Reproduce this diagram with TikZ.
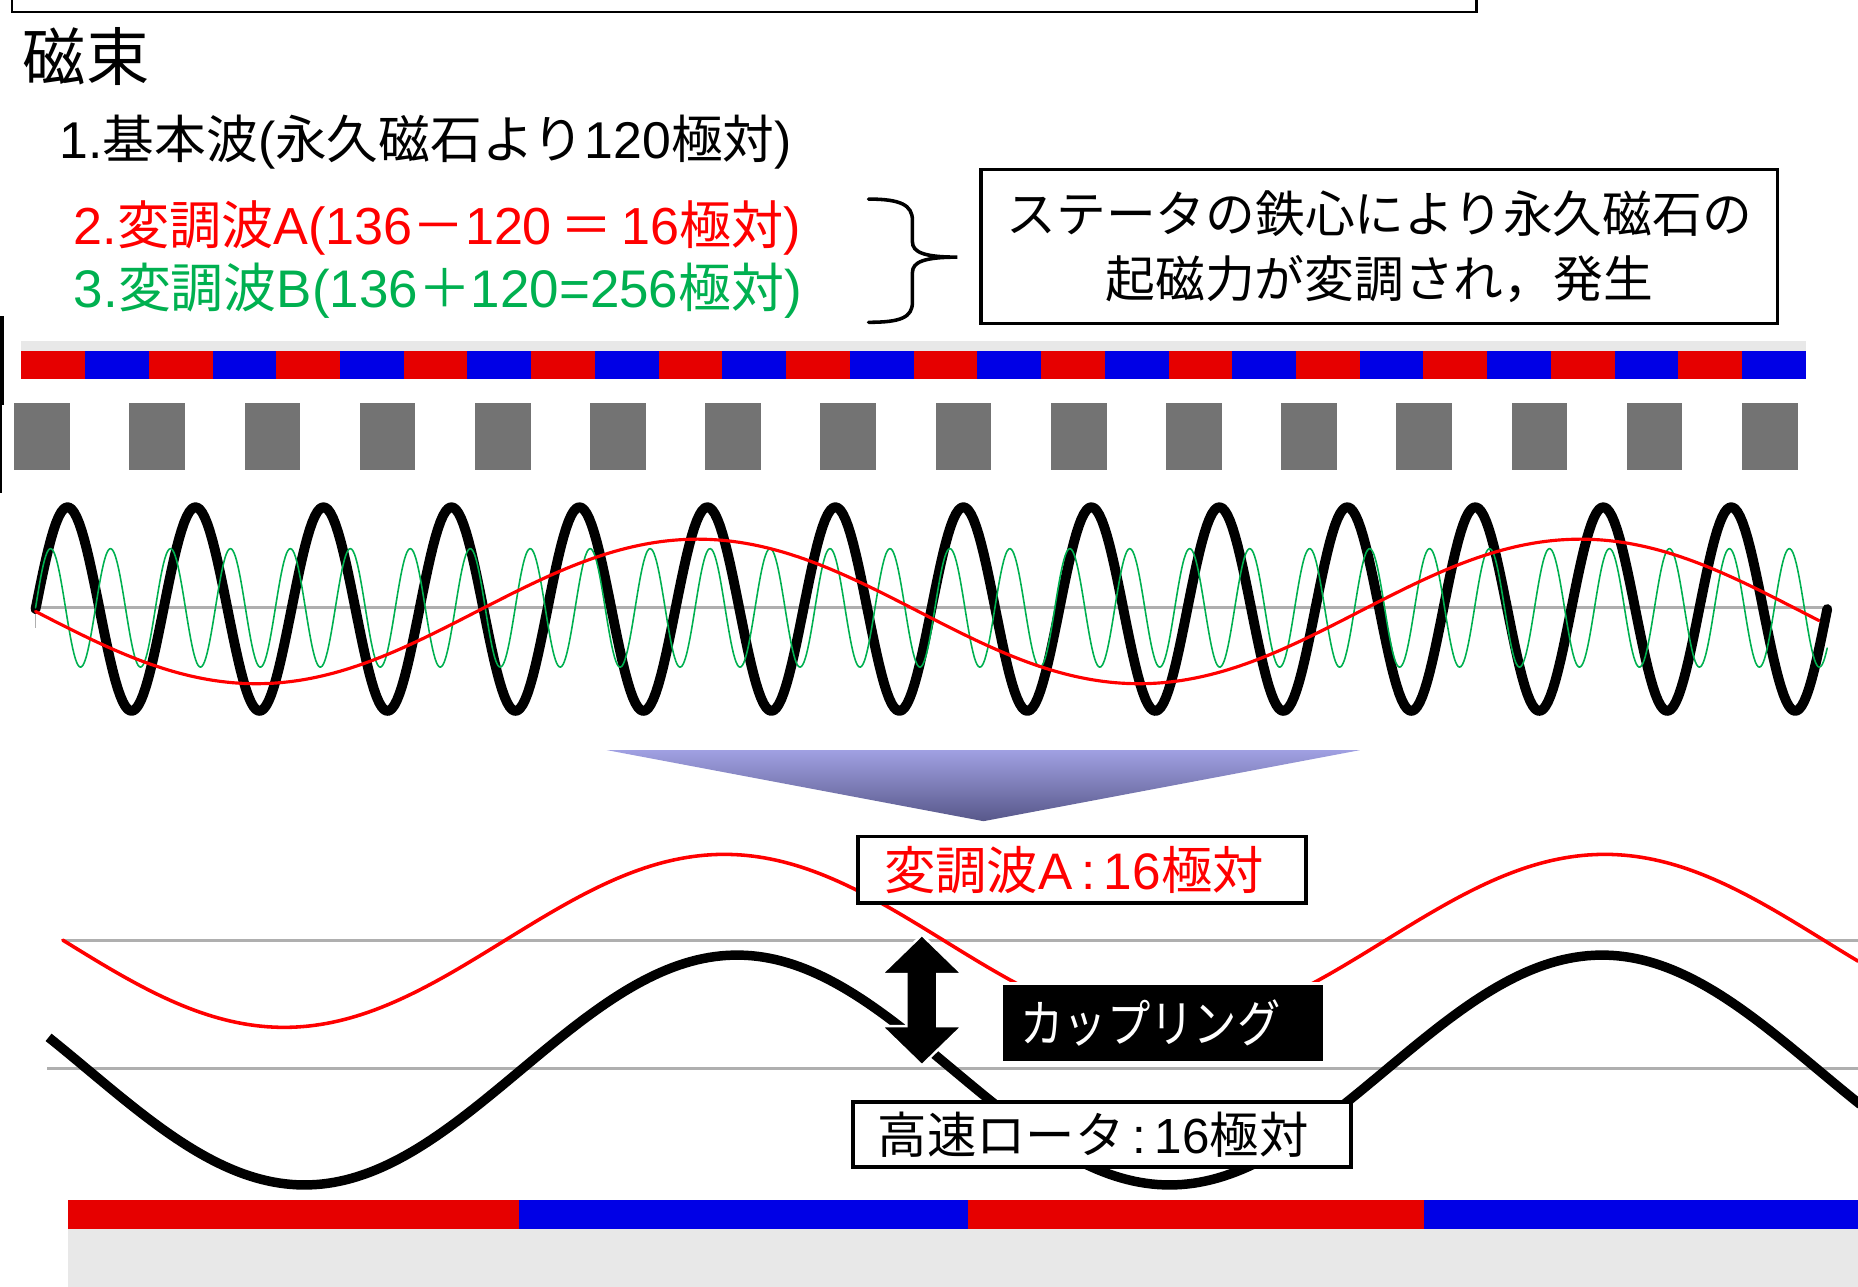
\documentclass[tikz,border=0pt]{standalone}
\usepackage{fontspec}
\setmainfont{Noto Sans CJK JP}
\newfontfamily\jpc{Noto Sans CJK JP}[FakeStretch=0.85]
\newfontfamily\lat{Liberation Sans}
\newcommand{\La}[1]{{\lat #1}}
\definecolor{magred}{RGB}{230,0,0}
\definecolor{magblue}{RGB}{0,0,230}
\definecolor{toothgray}{RGB}{115,115,115}
\definecolor{axisgray}{RGB}{175,175,175}
\definecolor{bandgray}{RGB}{232,232,232}
\definecolor{wavegreen}{RGB}{0,176,80}
\definecolor{txtred}{RGB}{255,0,0}
\definecolor{triTop}{RGB}{160,160,226}
\definecolor{triBot}{RGB}{88,88,138}
\begin{document}
\begin{tikzpicture}[x=0.6pt,y=-0.6pt,
  lbl/.style={inner sep=0pt, anchor=west},
  wbox/.style={draw=black, line width=1.8pt, fill=white, inner sep=0pt},
  wave/.style={line join=round, line cap=round}]
\useasboundingbox (0,0) rectangle (1568,1086);
% top frame (cut off)
\draw[line width=1.2pt] (10,-10) -- (10,10) -- (1246,10) -- (1246,-10);
% left edge marks
\draw[line width=1.8pt] (1.5,267) -- (1.5,342);
\draw[line width=0.9pt] (1,342) -- (1,416);
% headings
\node[lbl, font=\fontsize{32pt}{36pt}\selectfont] (title) at (19,48) {磁束};
\node[lbl, font=\fontsize{26.2pt}{31pt}\selectfont] (l1) at (50,120) {\La{1.}基本波\La{(}永久磁石より\La{120}極対\La{)}};
\node[lbl, text=txtred, font=\fontsize{26.4pt}{31pt}\selectfont] (l2) at (62,192) {\La{2.}変調波\La{A(136}－\La{120}\,＝\,\La{16}極対\La{)}};
\node[lbl, text=wavegreen, font=\fontsize{26.8pt}{31pt}\selectfont] (l3) at (62,245) {\La{3.}変調波\La{B(136}＋\La{120=256}極対\La{)}};
% brace
\draw[line width=1.8pt, line cap=round] (733,168) .. controls (760,168) and (770,173) .. (770,186) -- (770,204)
  .. controls (770,213) and (780,217) .. (808,217) .. controls (780,217) and (770,221) .. (770,230) -- (770,255)
  .. controls (770,268) and (760,272) .. (733,272);
\node[wbox, minimum width=403.2pt, minimum height=78pt, align=center,
  font=\fontsize{25.2pt}{33pt}\selectfont] (note) at (1164,208) {ステータの鉄心により永久磁石の\\起磁力が変調され，発生};
% magnet strip
\fill[bandgray] (18,288) rectangle (1524,296);
\foreach \i in {0,2,...,26} \fill[magred] ({18+\i*53.786},296) rectangle ({18+(\i+1)*53.786},320);
\foreach \i in {1,3,...,27} \fill[magblue] ({18+\i*53.786},296) rectangle ({18+(\i+1)*53.786},320);
% stator teeth
\foreach \i in {0,...,15} \fill[toothgray] ({12+\i*97.2},340) rectangle ({59+\i*97.2},397);
% upper waves
\draw[axisgray, line width=1.5pt] (30,513) -- (1545,513);
\draw[axisgray, line width=0.8pt] (30,505) -- (30,530);
\draw[wave, black, line width=5pt] plot[domain=30:1542, samples=700] (\x,{514-86*sin((\x-30)/108*360)});
\draw[wave, wavegreen, line width=0.8pt] plot[domain=30:1542, samples=1400] (\x,{513-50*sin((\x-30)/50.6*360)});
\draw[wave, red, line width=1.6pt] plot[domain=30:1535, samples=300] (\x,{516+61*sin((\x-30)/745*360)});
% big arrow
\shade[top color=triTop, bottom color=triBot] (512,633) -- (1148,633) -- (830,693) -- cycle;
% lower section
\draw[axisgray, line width=1.5pt] (52,794) -- (1568,794);
\draw[axisgray, line width=1.5pt] (40,902) -- (1568,902);
\draw[wave, red, line width=1.8pt] plot[domain=53:1568, samples=300] (\x,{794+73*sin((\x-54)/743*360)});
\draw[wave, black, line width=4.8pt, line cap=butt] plot[domain=41:1570, samples=300] (\x,{903+97*sin((\x-74.5)/730*360)});
\node[wbox, minimum width=226.8pt, minimum height=33.6pt, text=txtred,
  font=\fontsize{26pt}{30pt}\selectfont] (modA) at (913,734) {変調波\La{A\,:\,16}極対\kern8pt};
\node[wbox, minimum width=252pt, minimum height=33pt,
  font=\fontsize{25pt}{30pt}\selectfont] (rotor) at (930,957.5) {高速ロータ\La{\,:\,16}極対\kern9pt};
\node[draw=white, line width=1.8pt, fill=black, inner sep=0pt,
  minimum width=163.8pt, minimum height=40.2pt] (coup) at (981.5,863.5) {};
\node[text=white, inner sep=0pt, font=\jpc\fontsize{25.8pt}{30pt}\selectfont] (couptxt) at (971,863.5) {カップリング};
% double arrow
\filldraw[fill=black, draw=white, line width=1.2pt, line join=miter]
  (778,789) -- (812,822) -- (791,822) -- (791,866) -- (812,866) -- (778,899)
  -- (744,866) -- (765,866) -- (765,822) -- (744,822) -- cycle;
% rotor strip
\fill[magred] (57,1013) rectangle (438,1037);
\fill[magblue] (438,1013) rectangle (817,1037);
\fill[magred] (817,1013) rectangle (1202,1037);
\fill[magblue] (1202,1013) rectangle (1570,1037);
\fill[bandgray] (57,1037) rectangle (1570,1090);
\end{tikzpicture}
\end{document}
